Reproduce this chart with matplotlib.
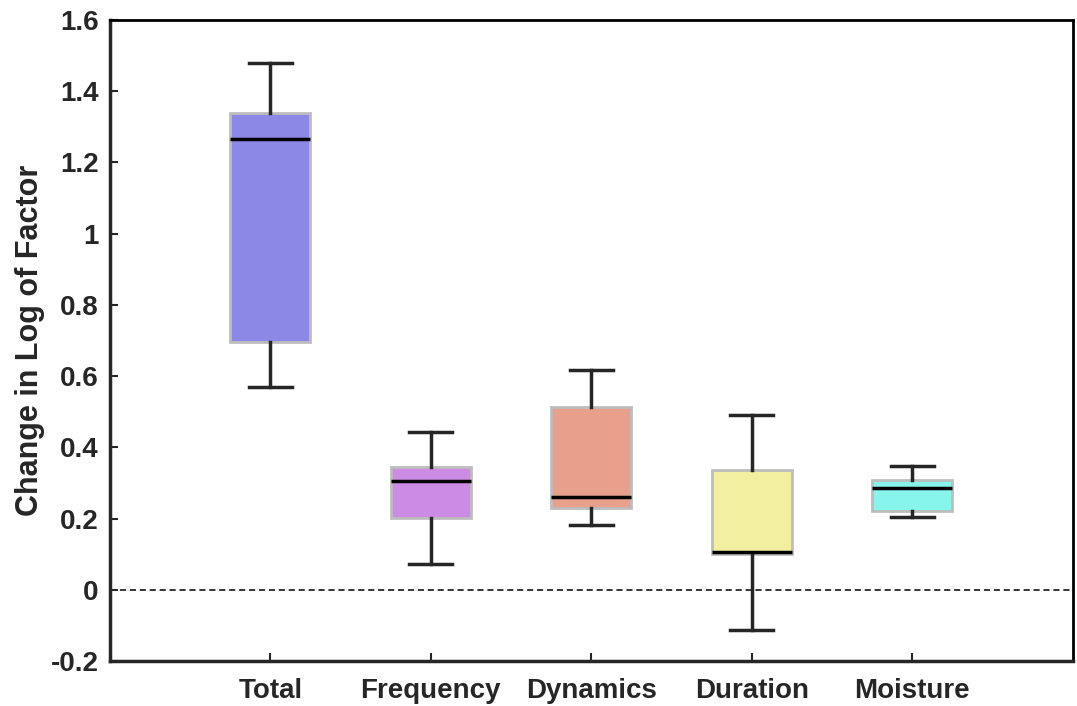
import matplotlib
matplotlib.use("Agg")
import matplotlib.pyplot as plt

# summary statistics per component
labels = ["Total", "Frequency", "Dynamics", "Duration", "Moisture"]
whislo = [0.57, 0.072, 0.181, -0.113, 0.204]
q1 = [0.697, 0.201, 0.229, 0.100, 0.220]
med = [1.266, 0.306, 0.260, 0.106, 0.285]
q3 = [1.338, 0.344, 0.513, 0.335, 0.309]
whishi = [1.478, 0.443, 0.617, 0.490, 0.347]
colors = ["#8c88e6", "#cc8ce6", "#e8a08c", "#f2f0a0", "#88f5ec"]

plt.rcParams["font.family"] = ["Liberation Sans", "DejaVu Sans"]
plt.rcParams["font.weight"] = "bold"

fig = plt.figure(figsize=(10.77, 7.06), dpi=100)
ax = fig.add_axes([0.102, 0.0637, 0.894, 0.908])

stats = []
for i in range(len(labels)):
    stats.append(dict(label=labels[i], whislo=whislo[i], q1=q1[i], med=med[i],
                      q3=q3[i], whishi=whishi[i], fliers=[]))

bp = ax.bxp(stats, positions=range(1, 6), widths=0.5, patch_artist=True,
            showfliers=False,
            boxprops=dict(edgecolor="#bdbdbd", linewidth=2),
            medianprops=dict(color="black", linewidth=2.5),
            whiskerprops=dict(color="#262626", linewidth=2.5),
            capprops=dict(color="#262626", linewidth=2.5),
            capwidths=0.27)
for patch, c in zip(bp["boxes"], colors):
    patch.set_facecolor(c)

ax.axhline(0, color="black", linestyle="--", linewidth=1.1, dashes=(4, 2.5), zorder=0)

ax.set_xlim(0, 6)
ax.set_ylim(-0.2, 1.6)
ax.set_yticks([-0.2, 0, 0.2, 0.4, 0.6, 0.8, 1, 1.2, 1.4, 1.6])
ax.set_yticklabels(["-0.2", "0", "0.2", "0.4", "0.6", "0.8", "1", "1.2", "1.4", "1.6"])
ax.set_xticks(range(1, 6))
ax.set_xticklabels(labels)
ax.tick_params(direction="in", length=6, width=1.5, labelsize=20, colors="#262626",
               pad=12)
ax.tick_params(axis="y", pad=8)
for s in ["left", "bottom"]:
    ax.spines[s].set_linewidth(2.5)
    ax.spines[s].set_color("#262626")
for s in ["top", "right"]:
    ax.spines[s].set_linewidth(2)
    ax.spines[s].set_color("black")

ax.set_ylabel("Change in Log of Factor", fontsize=22, fontweight="bold",
              color="#262626", labelpad=4)

fig.savefig("out.png", dpi=100)
